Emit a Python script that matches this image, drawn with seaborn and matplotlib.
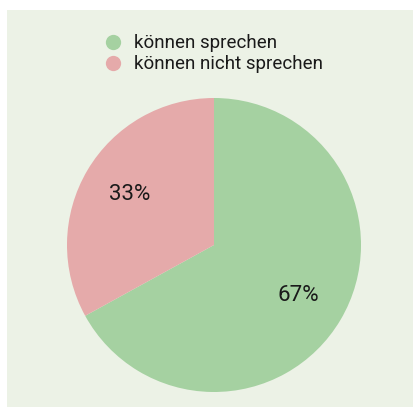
import matplotlib
matplotlib.use("Agg")
import matplotlib.pyplot as plt
from matplotlib.patches import Rectangle
from matplotlib.lines import Line2D
import seaborn as sns

categories = ["können sprechen", "können nicht sprechen"]
values = [67, 33]
colors = ["#a5d1a1", "#e5aaaa"]
bg = "#ecf2e6"

sns.set_style("white")
plt.rcParams['font.family'] = ['Roboto', 'DejaVu Sans']

W, H = 414, 407
fig = plt.figure(figsize=(W / 100, H / 100), dpi=100)
fig.patch.set_facecolor("white")
fig.patches.append(Rectangle((7 / W, 0), 1 - 7 / W, 1 - 10 / H, transform=fig.transFigure,
                             facecolor=bg, edgecolor="none", zorder=-10))

cx, cy, r = 214, 245, 147
ax = fig.add_axes([(cx - r) / W, (H - cy - r) / H, 2 * r / W, 2 * r / H])
wedges, texts, autotexts = ax.pie(values, colors=colors, startangle=90, counterclock=False,
                                  autopct=lambda p: f"{p:.0f}%", pctdistance=0.67,
                                  wedgeprops=dict(linewidth=0),
                                  textprops=dict(fontsize=16, color="#1a1a1a"))
ax.set_xlim(-1, 1)
ax.set_ylim(-1, 1)
ax.set_aspect("equal")
ax.axis("off")

handles = [Line2D([0], [0], marker="o", linestyle="none", markersize=11,
                  markerfacecolor=c, markeredgecolor="none") for c in colors]
fig.legend(handles, categories, loc="upper left", bbox_to_anchor=(92 / W, 1 - 25 / H),
           frameon=False, fontsize=13.5, handletextpad=0.55, labelspacing=0.15,
           borderpad=0, handlelength=1.2, labelcolor="#1a1a1a")

fig.savefig("out.png", dpi=100)
